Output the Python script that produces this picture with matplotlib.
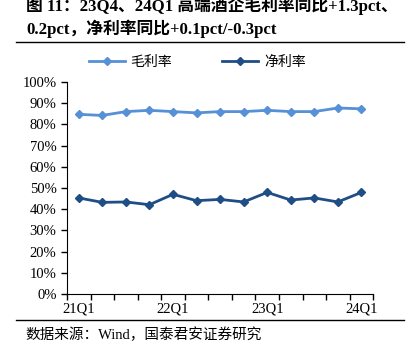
import matplotlib.pyplot as plt
from matplotlib.lines import Line2D

quarters = ['21Q1', '21Q2', '21Q3', '21Q4', '22Q1', '22Q2', '22Q3', '22Q4',
            '23Q1', '23Q2', '23Q3', '23Q4', '24Q1']
gross = [84.7, 84.2, 86.0, 86.6, 86.0, 85.4, 86.0, 86.0, 86.6, 86.0, 86.0, 87.7, 87.3]
net = [45.3, 43.2, 43.4, 42.1, 47.0, 44.0, 44.6, 43.4, 47.9, 44.3, 45.3, 43.4, 47.9]
yticks = list(range(0, 101, 10))

fam = ['Liberation Serif', 'Noto Sans CJK SC']
c_gross = '#5690D6'
c_net = '#1F4E86'

fig = plt.figure(figsize=(4.11, 3.5), dpi=100)
ax = fig.add_axes([0.163, 0.16, 0.745, 0.606])

x = list(range(len(quarters)))
ax.plot(x, gross, color=c_gross, lw=2, marker='D', ms=4, label='毛利率')
ax.plot(x, net, color=c_net, lw=2, marker='D', ms=4.5, label='净利率')

ax.set_ylim(0, 100)
ax.set_xlim(-0.5, len(quarters) - 0.5)
ax.set_yticks(yticks)
ax.set_yticklabels([f'{v}%' for v in yticks], family=fam, fontsize=10.5)
ax.set_xticks(x[::4])
ax.set_xticklabels(quarters[::4], family=fam, fontsize=10.5)
ax.set_xticks([i - 0.5 for i in range(len(quarters) + 1)], minor=True)
ax.tick_params(axis='x', which='major', length=0, pad=6)
ax.tick_params(axis='x', which='minor', length=4, direction='out', width=1)
ax.tick_params(axis='y', length=4, direction='out', width=1)
for s in ['top', 'right']:
    ax.spines[s].set_visible(False)
ax.spines['left'].set_color('black')
ax.spines['bottom'].set_color('black')

handles = [Line2D([], [], color=c_gross, lw=2, marker='D', ms=4),
           Line2D([], [], color=c_net, lw=2, marker='D', ms=4.5)]
fig.legend(handles, ['毛利率', '净利率'], loc='center', bbox_to_anchor=(0.48, 0.823),
           ncol=2, frameon=False, prop={'family': fam, 'size': 10},
           handlelength=2.6, columnspacing=3.6, handletextpad=0.4)

fig.text(0.063, 0.985, '图 11：23Q4、24Q1 高端酒企毛利率同比+1.3pct、', family=fam,
         fontsize=12.1, fontweight='bold', va='center')
fig.text(0.063, 0.918, '0.2pct，净利率同比+0.1pct/-0.3pct', family=fam,
         fontsize=12.1, fontweight='bold', va='center')
fig.add_artist(Line2D([0.04, 0.983], [0.88, 0.88], color='black', lw=1))
fig.add_artist(Line2D([0.04, 0.983], [0.086, 0.086], color='black', lw=1))
fig.text(0.063, 0.043, '数据来源：Wind，国泰君安证券研究', family=fam, fontsize=10.5, va='center')

fig.savefig('out.png', dpi=100)
